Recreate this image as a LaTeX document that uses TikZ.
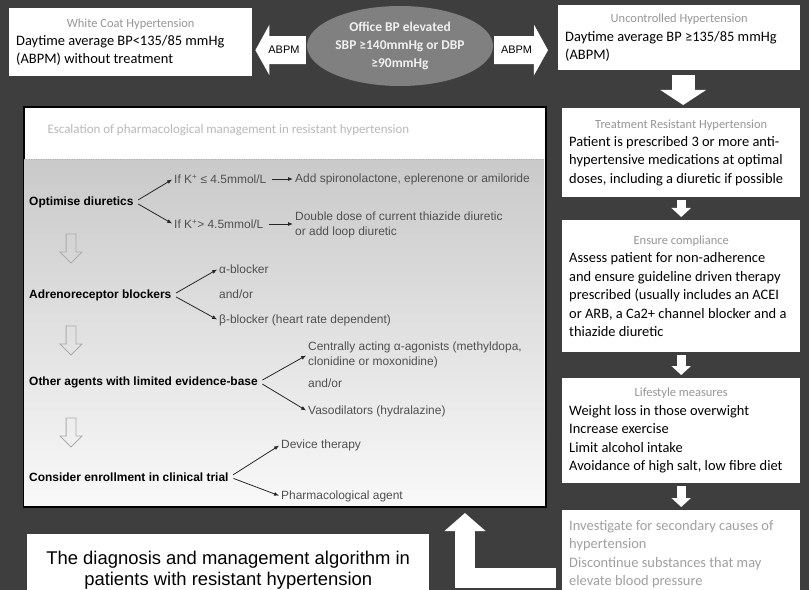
\documentclass[tikz,border=0pt]{standalone}
\usepackage{fontspec}
\setmainfont{Liberation Sans}
\newfontfamily\carlito{Carlito}
\usetikzlibrary{shapes.geometric,shapes.arrows,arrows.meta,positioning}

\definecolor{bgdark}{RGB}{62,62,62}
\definecolor{ovalgray}{RGB}{128,128,128}
\definecolor{headgray}{RGB}{150,150,150}
\definecolor{palegray}{RGB}{160,160,160}
\definecolor{optgray}{RGB}{80,80,80}

\newcommand{\boxhead}[1]{\makebox[\hsize]{\color{headgray}\fontsize{12.5}{15}\selectfont #1}}

\tikzset{
  infobox/.style={fill=white, anchor=north west, inner xsep=7bp, inner ysep=0bp, align=flush left,
    font=\carlito\fontsize{14.5}{18.5}\selectfont},
  abpmarrow/.style={draw=white, line width=28bp, -{Triangle[width=50bp,length=14bp]}, shorten <=1bp},
  abpm/.style={inner sep=0bp, text=black, font=\fontsize{11}{12}\selectfont},
  bigdown/.style={draw=white, line width=23bp, -{Triangle[width=45bp,length=15bp]}, shorten <=5bp, shorten >=3bp},
  stepdown/.style={draw=white, line width=9bp, -{Triangle[width=19bp,length=9bp]}, shorten <=3bp, shorten >=3bp},
  stage/.style={anchor=west, inner sep=1bp, font=\bfseries\fontsize{12}{14.5}\selectfont},
  choice/.style={anchor=west, inner sep=1bp, align=flush left, text=optgray, font=\fontsize{12}{14.5}\selectfont},
  branch/.style={draw=black!85, line width=0.8bp, -{Latex[length=5bp,width=4bp]}, shorten <=4bp, shorten >=1bp},
  hollowdown/.style={single arrow, draw=gray!65, line width=0.9bp, fill=none, shape border rotate=270,
    minimum height=29bp, inner sep=4.5bp, single arrow head extend=6bp}
}

\begin{document}
\begin{tikzpicture}[x=1bp,y=-1bp]
\useasboundingbox (0,0) rectangle (809,590);
\fill[bgdark] (0,0) rectangle (809,590);
%% top row
\node[infobox, text width=229bp, minimum height=68bp] (wc) at (9,8)
  {\boxhead{White Coat Hypertension}\\Daytime average BP<135/85 mmHg\\(ABPM) without treatment};
\node[ellipse, fill=ovalgray, minimum width=186bp, minimum height=80bp, inner sep=0bp, align=center,
  text=white!88!gray, font=\carlito\bfseries\fontsize{13.5}{18}\selectfont] (office) at (400,46)
  {Office BP elevated\\SBP ≥140mmHg or DBP\\≥90mmHg};
\node[infobox, text width=228bp, minimum height=65bp] (unc) at (558,5)
  {\boxhead{Uncontrolled Hypertension}\\Daytime average BP ≥135/85 mmHg\\(ABPM)};
\draw[abpmarrow, shorten >=3bp] ([yshift=-4bp]office.west) -- node[abpm, pos=0.42] {ABPM} ([yshift=-8bp]wc.east);
\draw[abpmarrow, shorten >=10bp] ([yshift=-4bp]office.east) -- node[abpm, pos=0.36] {ABPM} ([yshift=-12.5bp]unc.west);
%% right column
\node[infobox, text width=224bp, minimum height=89bp] (treat) at (562,108)
  {\boxhead{Treatment Resistant Hypertension}\\Patient is prescribed 3 or more anti-\\hypertensive medications at optimal\\doses, including a diuretic if possible};
\node[infobox, text width=224bp, minimum height=132bp] (comply) at (562,220)
  {\boxhead{Ensure compliance}\\Assess patient for non-adherence\\and ensure guideline driven therapy\\prescribed (usually includes an ACEI\\or ARB, a Ca2+ channel blocker and a\\thiazide diuretic};
\node[infobox, text width=224bp, minimum height=105bp] (life) at (562,378)
  {\boxhead{Lifestyle measures}\\Weight loss in those overwight\\Increase exercise\\Limit alcohol intake\\Avoidance of high salt, low fibre diet};
\node[infobox, text width=224bp, minimum height=88bp, text=palegray] (invest) at (562,510)
  {Investigate for secondary causes of\\hypertension\\Discontinue substances that may\\elevate blood pressure};
\path ([xshift=4bp]unc.south) coordinate (bigtop);
\draw[bigdown] (bigtop) -- (bigtop |- treat.north);
\draw[stepdown] (treat) -- (comply);
\draw[stepdown] (comply) -- (life);
\draw[stepdown] (life) -- (invest);
%% escalation panel
\node[draw=black, line width=1.6bp, fill=white, anchor=north west, minimum width=522bp,
  minimum height=400bp, inner sep=0bp] (esc) at (23,106) {};
\shade[top color=gray!42, bottom color=gray!5] (24,160) rectangle (544,505);
\draw[gray!60, dotted] (24,159) -- (544,159);
\node[anchor=west, text=gray!55, font=\carlito\fontsize{13}{15}\selectfont] (esctitle) at (44,130)
  {Escalation of pharmacological management in resistant hypertension};
%
\node[stage] (opt) at (28,202) {Optimise diuretics};
\node[choice] (klow) at (173,179) {If K\textsuperscript{+} ≤ 4.5mmol/L};
\node[choice] (khigh) at (173,224) {If K\textsuperscript{+}> 4.5mmol/L};
\node[choice] (spiro) at (294,179) {Add spironolactone, eplerenone or amiloride};
\node[choice] (dbl) at (294,225) {Double dose of current thiazide diuretic\\or add loop diuretic};
\draw[branch] (opt.east) -- (klow.west);
\draw[branch] (opt.east) -- (khigh.west);
\draw[branch] (klow) -- (spiro);
\draw[branch] (khigh.east) -- (khigh.east -| dbl.west);
\node[hollowdown] (h1) at (71,246) {};
%
\node[stage] (adr) at (28,295) {Adrenoreceptor blockers};
\node[choice] (alpha) at (218,269) {α-blocker};
\node[choice] (andor1) at (218,294) {and/or};
\node[choice] (beta) at (218,320) {β-blocker (heart rate dependent)};
\draw[branch] (adr.east) -- (alpha.west);
\draw[branch] (adr.east) -- (beta.west);
\node[hollowdown] (h2) at (71,338) {};
%
\node[stage] (other) at (28,382) {Other agents with limited evidence-base};
\node[choice] (central) at (307,355) {Centrally acting α-agonists (methyldopa,\\clonidine or moxonidine)};
\node[choice] (andor2) at (307,383) {and/or};
\node[choice] (vaso) at (307,411) {Vasodilators (hydralazine)};
\draw[branch] (other.east) -- (central.west);
\draw[branch] (other.east) -- (vaso.west);
\node[hollowdown] (h3) at (71,430) {};
%
\node[stage] (trial) at (28,477) {Consider enrollment in clinical trial};
\node[choice] (device) at (280,445) {Device therapy};
\node[choice] (pharm) at (280,496) {Pharmacological agent};
\draw[branch] (trial.east) -- (device.west);
\draw[branch] (trial.east) -- (pharm.west);
%% caption and return arrow
\node[fill=white, anchor=north west, minimum width=402bp, minimum height=72bp, align=center,
  font=\fontsize{18.5}{22}\selectfont] (caption) at (27,534)
  {The diagnosis and management algorithm in\\patients with resistant hypertension};
\coordinate (lstart) at (556,578);
\coordinate (ltip) at (465,513);
\draw[draw=white, line width=20bp, line join=miter, -{Triangle[width=40bp,length=18bp]}] (lstart) -| (ltip);
%
\end{tikzpicture}
\end{document}
